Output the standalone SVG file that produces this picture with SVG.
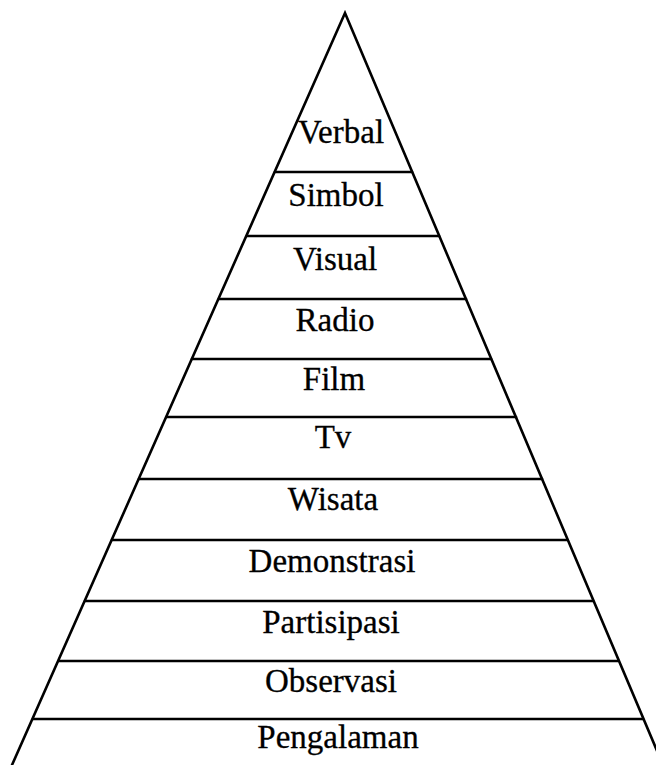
<svg xmlns="http://www.w3.org/2000/svg" width="656" height="765" viewBox="0 0 656 765">
<style>
.ln{stroke:#000;stroke-width:2.6;fill:none;stroke-linecap:round;stroke-linejoin:miter}
.t{font-family:"Liberation Serif","Times New Roman",serif;font-size:33px;fill:#000;text-anchor:middle;stroke:#000;stroke-width:0.3}
</style>
<rect width="656" height="765" fill="#fff"/>
<g id="outline">
<path class="ln" d="M12,765 L345,13 L663,765"/>
</g>
<g id="connectors">
<line class="ln" x1="275" y1="172" x2="412" y2="172"/>
<line class="ln" x1="247" y1="236" x2="439" y2="236"/>
<line class="ln" x1="219" y1="299" x2="466" y2="299"/>
<line class="ln" x1="192" y1="359" x2="491" y2="359"/>
<line class="ln" x1="167" y1="417" x2="516" y2="417"/>
<line class="ln" x1="139" y1="479" x2="542" y2="479"/>
<line class="ln" x1="112" y1="540" x2="567" y2="540"/>
<line class="ln" x1="85" y1="601" x2="593" y2="601"/>
<line class="ln" x1="59" y1="661" x2="618" y2="661"/>
<line class="ln" x1="33" y1="719" x2="643" y2="719"/>
</g>
<g id="verbal"><text class="t" x="341" y="143">Verbal</text></g>
<g id="simbol"><text class="t" x="336" y="206">Simbol</text></g>
<g id="visual"><text class="t" x="335" y="270">Visual</text></g>
<g id="radio"><text class="t" x="335" y="331">Radio</text></g>
<g id="film"><text class="t" x="334" y="390">Film</text></g>
<g id="tv"><text class="t" x="333" y="448">Tv</text></g>
<g id="wisata"><text class="t" x="333" y="510">Wisata</text></g>
<g id="demonstrasi"><text class="t" x="332" y="572">Demonstrasi</text></g>
<g id="partisipasi"><text class="t" x="331" y="633">Partisipasi</text></g>
<g id="observasi"><text class="t" x="331" y="692">Observasi</text></g>
<g id="pengalaman"><text class="t" x="338" y="748">Pengalaman</text></g>
</svg>
